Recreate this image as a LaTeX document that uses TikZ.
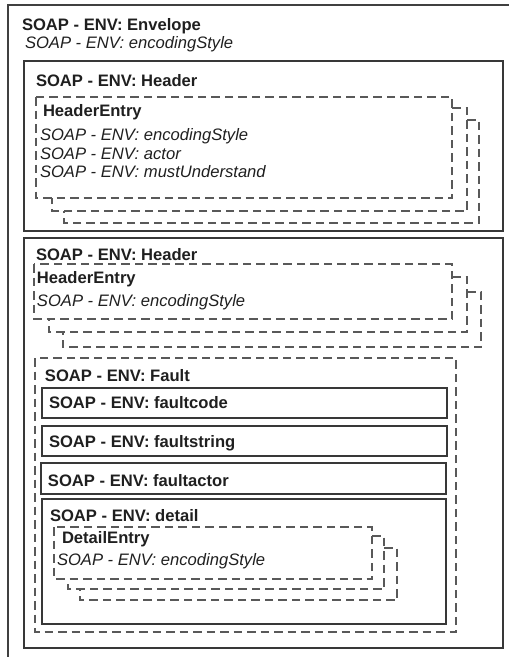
\documentclass[tikz,border=0pt]{standalone}
\usepackage{fontspec}
\setmainfont{Liberation Sans}
\begin{document}
\begin{tikzpicture}[x=1pt,y=-1pt,
  every node/.style={inner sep=0pt,outer sep=0pt,anchor=base west,text=black!88,font=\fontsize{16.6}{20}\selectfont},
  bt/.style={font=\fontsize{16.6}{20}\selectfont\bfseries},
  it/.style={font=\fontsize{16.6}{20}\selectfont\itshape},
  solidbox/.style={draw=black!78,line width=1.1pt},
  dashbox/.style={draw=black!65,line width=1.1pt,dash pattern=on 8.5pt off 5pt}]
\useasboundingbox (0,0) rectangle (509,657);
% envelope
\draw[draw=black!75,line width=1.1pt] (8,657) -- (8,5) -- (509,5);
\node[bt] (env) at (22,30) {SOAP - ENV: Envelope};
\node[it] (envenc) at (25,48) {SOAP - ENV: encodingStyle};
% header 1
\draw[solidbox] (24,61) rectangle (503,231);
\node[bt] (h1) at (36,86) {SOAP - ENV: Header};
\draw[dashbox] (452,108) -- (467,108) -- (467,211) -- (52,211) -- (52,198);
\draw[dashbox] (467,120) -- (479,120) -- (479,223) -- (64,223) -- (64,211);
\draw[dashbox] (36,97) rectangle (452,198);
\node[bt] (he1) at (43,116) {HeaderEntry};
\node[it] (he1a) at (40,140) {SOAP - ENV: encodingStyle};
\node[it] (he1b) at (40,159) {SOAP - ENV: actor};
\node[it] (he1c) at (40,177) {SOAP - ENV: mustUnderstand};
% header 2 (body)
\draw[solidbox] (24,238) rectangle (503,648);
\node[bt] (h2) at (36,260) {SOAP - ENV: Header};
\draw[dashbox] (452,277) -- (467,277) -- (467,332) -- (49,332) -- (49,319);
\draw[dashbox] (467,292) -- (481,292) -- (481,347) -- (63,347) -- (63,332);
\draw[dashbox] (34,264) rectangle (452,319);
\node[bt] (he2) at (37,283) {HeaderEntry};
\node[it] (he2a) at (37,306) {SOAP - ENV: encodingStyle};
% fault
\draw[dashbox] (35,358) rectangle (456,632);
\node[bt] (fault) at (45,381) {SOAP - ENV: Fault};
\draw[solidbox] (42,388) rectangle (447,418);
\node[bt] (fcode) at (49,408) {SOAP - ENV: faultcode};
\draw[solidbox] (42,426) rectangle (447,456);
\node[bt] (fstr) at (49,447) {SOAP - ENV: faultstring};
\draw[solidbox] (41,463) rectangle (446,494);
\node[bt] (fact) at (48,486) {SOAP - ENV: faultactor};
\draw[solidbox] (42,499) rectangle (446,624);
\node[bt] (det) at (50,521) {SOAP - ENV: detail};
\draw[dashbox] (372,536) -- (384,536) -- (384,589) -- (68,589) -- (68,579);
\draw[dashbox] (384,548) -- (397,548) -- (397,600) -- (80,600) -- (80,589);
\draw[dashbox] (54,527) rectangle (372,579);
\node[bt] (de) at (62,543) {DetailEntry};
\node[it] (dea) at (57,565) {SOAP - ENV: encodingStyle};
\end{tikzpicture}
\end{document}
